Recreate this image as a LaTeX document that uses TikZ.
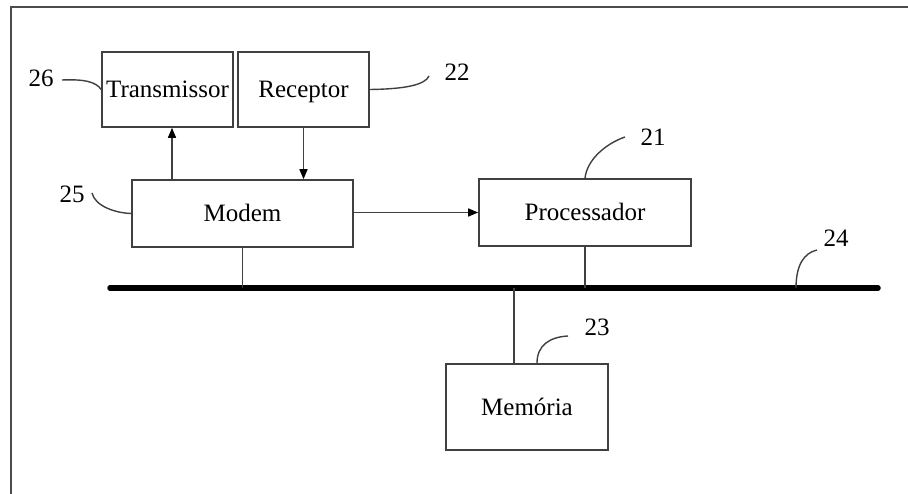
\documentclass[tikz,border=0pt]{standalone}
\usepackage{fontspec}
\setmainfont{Liberation Serif}
\usetikzlibrary{arrows.meta}
\begin{document}
\begin{tikzpicture}[x=1pt,y=-1pt,
  every node/.style={font=\fontsize{25}{30}\selectfont},
  blk/.style={draw=black!75, line width=1.6pt, rectangle, inner sep=0pt, text height=20pt, text depth=3pt},
  conn/.style={draw=black!75, line width=1.5pt},
  arr/.style={conn, -{Triangle[length=10pt,width=8pt,fill=black,color=black]}},
  lead/.style={draw=black!75, line width=1.4pt},
  num/.style={inner sep=0pt},
  frame/.style={draw=black!70, line width=1.6pt}]
\useasboundingbox (0,0) rectangle (908,494);
% open frame
\draw[frame] (908,7) -- (11,7) -- (11,494);
% blocks
\node[blk, minimum width=131pt, minimum height=75pt] (Trans) at (167.5,89.5) {Transmissor};
\node[blk, minimum width=131pt, minimum height=75pt] (Rec) at (303.5,89.5) {Receptor};
\node[blk, minimum width=221pt, minimum height=67pt] (Modem) at (242.5,213.5) {Modem};
\node[blk, minimum width=212pt, minimum height=67pt] (Proc) at (585,212.5) {Processador};
\node[blk, minimum width=162pt, minimum height=86pt] (Mem) at (527,407) {Memória};
% bus
\coordinate (busL) at (110,288);
\coordinate (busR) at (878,288);
\coordinate (memtap) at (514,288);
\coordinate (tap24) at (796,288);
\draw[line width=5.5pt, line cap=round] (busL) -- (busR);
% connectors
\draw[arr] ([xshift=4.5pt]Trans.south |- Modem.north) -- ([xshift=4.5pt]Trans.south);
\draw[arr] (Rec.south) -- (Rec.south |- Modem.north);
\draw[arr] (Modem.east |- Proc.west) -- (Proc.west);
\draw[conn] (Modem.south) -- (Modem.south |- busL);
\draw[conn] (Proc.south) -- (Proc.south |- busL);
\draw[conn] (memtap) -- (memtap |- Mem.north);
% reference numbers
\node[num] (n26) at (41,78) {26};
\node[num] (n22) at (457,72) {22};
\node[num] (n25) at (72,194) {25};
\node[num] (n21) at (653,137) {21};
\node[num] (n24) at (836,238) {24};
\node[num] (n23) at (597,327) {23};
\coordinate (e26) at (62,80);
\coordinate (e22) at (429,76);
\coordinate (e25) at (92,193);
\coordinate (e21) at (625,137);
\coordinate (e24) at (817,250);
\coordinate (e23) at (568,336);
\draw[lead] (e26) .. controls (85,79) and (96,82) .. (Trans.west);
\draw[lead] (Rec.east) .. controls (405,89) and (425,85) .. (e22);
\draw[lead] (e25) .. controls (95,206) and (115,213) .. (Modem.west);
\draw[lead] (Proc.north) .. controls (587,160) and (605,144) .. (e21);
\draw[lead] (tap24) .. controls (796,265) and (804,253) .. (e24);
\draw[lead] ([xshift=10pt]Mem.north) .. controls (537,345) and (550,337) .. (e23);
\end{tikzpicture}
\end{document}
